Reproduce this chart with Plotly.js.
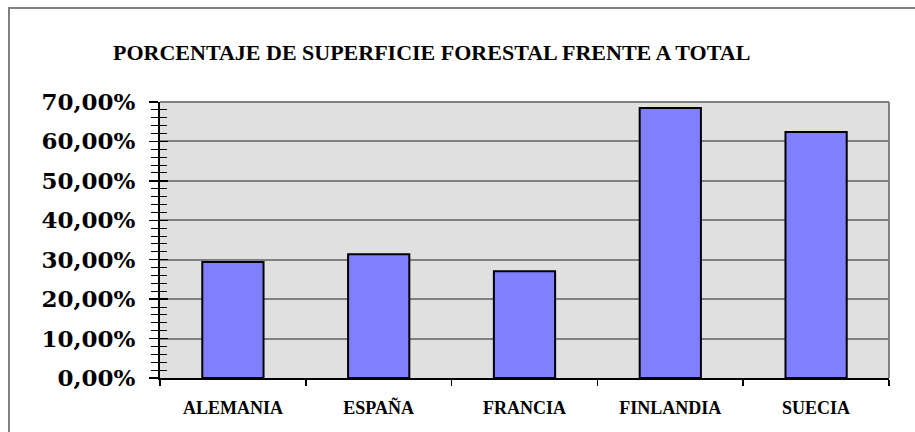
<!DOCTYPE html>
<html>
<head>
<meta charset="utf-8">
<script src="https://cdn.plot.ly/plotly-3.0.1.min.js"></script>
<style>
  html, body { margin: 0; padding: 0; background: #fff; overflow: hidden; }
  #frame { position: absolute; left: 8px; top: 7px; width: 1000px; height: 1000px;
           border-left: 2px solid #808080; border-top: 2px solid #808080; }
  #chart { position: absolute; left: 0; top: 0; width: 915px; height: 432px; }
</style>
</head>
<body>
<div id="frame"></div>
<div id="chart"></div>
<script>
// Datos
const paises = ['ALEMANIA', 'ESPAÑA', 'FRANCIA', 'FINLANDIA', 'SUECIA'];
const superficie = [0.294, 0.314, 0.271, 0.685, 0.624];
const titulo = 'PORCENTAJE DE SUPERFICIE FORESTAL FRENTE A TOTAL';

const serif = 'Liberation Serif, serif';
const tickFont = { family: 'DejaVu Serif, serif', size: 23, color: '#000', weight: 'bold' };

const bars = {
  x: paises,
  y: superficie,
  type: 'bar',
  marker: { color: '#8080ff', line: { color: '#000', width: 2 } },
  hoverinfo: 'skip'
};

// invisible trace so the overlay axes (inner half of the ticks) get drawn
const ghost = {
  x: paises,
  y: superficie,
  xaxis: 'x2',
  yaxis: 'y2',
  type: 'scatter',
  mode: 'markers',
  marker: { opacity: 0 },
  hoverinfo: 'skip'
};

const layout = {
  width: 915,
  height: 432,
  margin: { l: 160, r: 26, t: 102, b: 54 },
  paper_bgcolor: 'rgba(0,0,0,0)',
  plot_bgcolor: '#e0e0e0',
  separators: ',.',
  showlegend: false,
  bargap: 0.58,
  title: {
    text: '<b>' + titulo + '</b>',
    font: { family: serif, size: 22, color: '#000' },
    x: 113 / 915, xanchor: 'left',
    y: 1 - 52 / 432, yanchor: 'middle'
  },
  xaxis: {
    type: 'category',
    showgrid: false,
    showline: true, linecolor: '#000', linewidth: 2,
    ticks: 'outside', tickson: 'boundaries', ticklen: 6, tickwidth: 1.5, tickcolor: '#000',
    tickfont: { family: serif, size: 18, color: '#000', weight: 'bold' },
    ticklabelstandoff: 12,
    fixedrange: true
  },
  yaxis: {
    range: [0, 0.7],
    dtick: 0.1,
    tickformat: '.2%',
    showgrid: true, gridcolor: '#808080', gridwidth: 2,
    zeroline: false,
    showline: true, linecolor: '#000', linewidth: 2,
    ticks: 'outside', ticklen: 9, tickwidth: 1.5, tickcolor: '#000',
    minor: { dtick: 0.02, ticks: 'outside', ticklen: 7, tickwidth: 1, tickcolor: '#000', showgrid: false },
    tickfont: tickFont,
    ticklabelstandoff: 9,
    fixedrange: true
  },
  xaxis2: {
    type: 'category', overlaying: 'x', matches: 'x',
    showgrid: false, showline: false, showticklabels: false,
    ticks: 'inside', tickson: 'boundaries', ticklen: 0, tickcolor: '#000'
  },
  yaxis2: {
    overlaying: 'y', range: [0, 0.7], dtick: 0.1,
    showgrid: false, showline: false, showticklabels: false, zeroline: false,
    ticks: 'inside', ticklen: 8, tickwidth: 1.5, tickcolor: '#000',
    minor: { dtick: 0.02, ticks: 'inside', ticklen: 7, tickwidth: 1, tickcolor: '#000', showgrid: false }
  },
  shapes: [
    { type: 'line', xref: 'paper', yref: 'paper', x0: 0, x1: 1, y0: 1, y1: 1,
      line: { color: '#808080', width: 2 } },
    { type: 'line', xref: 'paper', yref: 'paper', x0: 1, x1: 1, y0: 0, y1: 1,
      line: { color: '#808080', width: 2 } }
  ]
};

Plotly.newPlot('chart', [bars, ghost], layout, { displayModeBar: false, staticPlot: true });
</script>
</body>
</html>
